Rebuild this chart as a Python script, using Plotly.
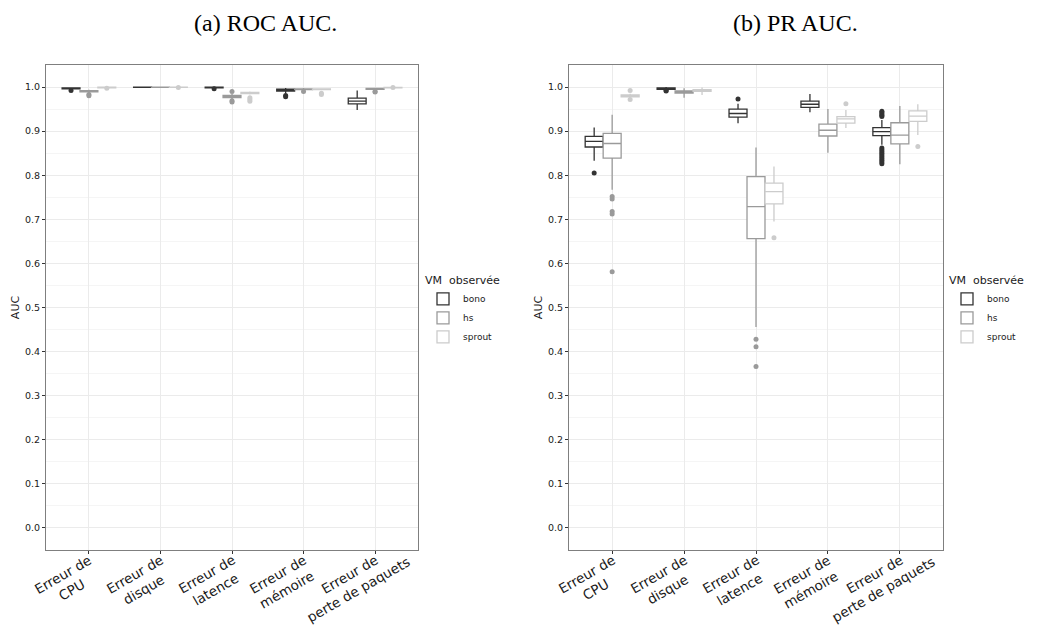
import plotly.graph_objects as go

categories = ["Erreur de<br>CPU", "Erreur de<br>disque", "Erreur de<br>latence",
              "Erreur de<br>mémoire", "Erreur de<br>perte de paquets"]
groups = ["bono", "hs", "sprout"]
colors = ["#333333", "#9a9a9a", "#cccccc"]
y_ticks = [0.0, 0.1, 0.2, 0.3, 0.4, 0.5, 0.6, 0.7, 0.8, 0.9, 1.0]

# ---- (a) ROC AUC ----
roc_bono_lo = [0.994, 1.0, 0.997, 0.986, 0.948]
roc_bono_q1 = [0.996, 0.9995, 0.998, 0.991, 0.962]
roc_bono_med = [0.997, 1.0, 0.999, 0.993, 0.968]
roc_bono_q3 = [0.998, 1.0, 0.9995, 0.995, 0.975]
roc_bono_hi = [0.999, 1.0, 1.0, 0.998, 0.992]
roc_bono_out = [[0.992], [], [0.996], [0.981, 0.978], []]

roc_hs_lo = [0.986, 0.999, 0.973, 0.992, 0.993]
roc_hs_q1 = [0.989, 0.9995, 0.976, 0.994, 0.995]
roc_hs_med = [0.991, 1.0, 0.978, 0.995, 0.996]
roc_hs_q3 = [0.992, 1.0, 0.981, 0.996, 0.997]
roc_hs_hi = [0.994, 1.0, 0.984, 0.998, 0.998]
roc_hs_out = [[0.983, 0.980], [], [0.990, 0.969, 0.966], [0.990], [0.990, 0.989]]

roc_sprout_lo = [0.997, 0.999, 0.983, 0.993, 0.997]
roc_sprout_q1 = [0.998, 0.9995, 0.985, 0.994, 0.998]
roc_sprout_med = [0.999, 1.0, 0.986, 0.995, 0.998]
roc_sprout_q3 = [0.9995, 1.0, 0.988, 0.996, 0.999]
roc_sprout_hi = [1.0, 1.0, 0.990, 0.997, 1.0]
roc_sprout_out = [[0.997], [0.999], [0.976, 0.972, 0.968], [0.986, 0.983], [0.999]]

# ---- (b) PR AUC ----
pr_bono_lo = [0.833, 0.993, 0.918, 0.943, 0.869]
pr_bono_q1 = [0.864, 0.995, 0.932, 0.954, 0.890]
pr_bono_med = [0.877, 0.997, 0.940, 0.961, 0.899]
pr_bono_q3 = [0.888, 0.998, 0.950, 0.968, 0.908]
pr_bono_hi = [0.908, 1.0, 0.962, 0.984, 0.925]
pr_bono_out = [[0.805], [0.992, 0.991], [0.973], [],
               [0.933, 0.936, 0.939, 0.942, 0.945, 0.862, 0.858, 0.854, 0.850,
                0.846, 0.842, 0.838, 0.834, 0.830, 0.826]]

pr_hs_lo = [0.767, 0.976, 0.456, 0.851, 0.825]
pr_hs_q1 = [0.839, 0.986, 0.656, 0.889, 0.871]
pr_hs_med = [0.872, 0.989, 0.729, 0.902, 0.891]
pr_hs_q3 = [0.895, 0.991, 0.797, 0.916, 0.919]
pr_hs_hi = [0.937, 0.997, 0.863, 0.950, 0.957]
pr_hs_out = [[0.752, 0.746, 0.718, 0.712, 0.581], [], [0.428, 0.411, 0.366], [], []]

pr_sprout_lo = [0.975, 0.982, 0.695, 0.907, 0.891]
pr_sprout_q1 = [0.978, 0.990, 0.735, 0.918, 0.922]
pr_sprout_med = [0.980, 0.992, 0.763, 0.928, 0.934]
pr_sprout_q3 = [0.982, 0.994, 0.782, 0.933, 0.946]
pr_sprout_hi = [0.985, 0.999, 0.820, 0.948, 0.961]
pr_sprout_out = [[0.992, 0.972], [], [0.658], [0.962], [0.865]]

panels = [
    dict(xa="x", ya="y", legend="legend", stats=[
        (roc_bono_lo, roc_bono_q1, roc_bono_med, roc_bono_q3, roc_bono_hi, roc_bono_out),
        (roc_hs_lo, roc_hs_q1, roc_hs_med, roc_hs_q3, roc_hs_hi, roc_hs_out),
        (roc_sprout_lo, roc_sprout_q1, roc_sprout_med, roc_sprout_q3, roc_sprout_hi, roc_sprout_out),
    ]),
    dict(xa="x2", ya="y2", legend="legend2", stats=[
        (pr_bono_lo, pr_bono_q1, pr_bono_med, pr_bono_q3, pr_bono_hi, pr_bono_out),
        (pr_hs_lo, pr_hs_q1, pr_hs_med, pr_hs_q3, pr_hs_hi, pr_hs_out),
        (pr_sprout_lo, pr_sprout_q1, pr_sprout_med, pr_sprout_q3, pr_sprout_hi, pr_sprout_out),
    ]),
]

BOX_W = 0.25
fig = go.Figure()
for p in panels:
    for g, (name, col, st) in enumerate(zip(groups, colors, p["stats"])):
        lo, q1, med, q3, hi, out = st
        offset = (g - 1) * BOX_W
        xs = [i + offset for i in range(len(categories))]
        fig.add_trace(go.Box(
            x=xs, q1=q1, median=med, q3=q3, lowerfence=lo, upperfence=hi,
            width=BOX_W, whiskerwidth=0, boxpoints=False, name=name,
            fillcolor="white", line=dict(color=col, width=1.3),
            xaxis=p["xa"], yaxis=p["ya"], legend=p["legend"],
            hoverinfo="skip",
        ))
        ox, oy = [], []
        for i, vals in enumerate(out):
            for v in vals:
                ox.append(i + offset)
                oy.append(v)
        fig.add_trace(go.Scatter(
            x=ox, y=oy, mode="markers", showlegend=False,
            marker=dict(color=col, size=5, line=dict(width=0)),
            xaxis=p["xa"], yaxis=p["ya"], hoverinfo="skip",
        ))

W, H = 1037, 630
AX_BOTTOM = 550
tick_font = dict(family="DejaVu Sans", size=9.5, color="#1a1a1a")
xlab_font = dict(family="DejaVu Sans", size=13.5, color="#1a1a1a")

def xaxis(domain, anchor):
    return dict(domain=domain, anchor=anchor, range=[-0.6, 4.6],
                tickvals=list(range(len(categories))), showticklabels=False,
                ticks="outside", ticklen=3,
                tickcolor="#333333", showgrid=True, gridcolor="#ebebeb", gridwidth=1,
                zeroline=False, showline=True, mirror=True, linecolor="#7f7f7f",
                linewidth=1, automargin=False)

def yaxis(anchor):
    return dict(domain=[1 - AX_BOTTOM / H, 1 - 65 / H], anchor=anchor, range=[-0.05, 1.05],
                tickvals=y_ticks, tickformat=".1f", tickfont=tick_font,
                ticks="outside", ticklen=3, tickcolor="#333333",
                showgrid=True, gridcolor="#ebebeb", gridwidth=1,
                minor=dict(tick0=0.05, dtick=0.1, showgrid=True, gridcolor="#f5f5f5", gridwidth=1, ticks=""),
                zeroline=False, showline=True, mirror=True, linecolor="#7f7f7f",
                linewidth=1, automargin=False,
                title=dict(text="AUC", font=dict(family="DejaVu Sans", size=11, color="#1a1a1a"), standoff=3))

legend_common = dict(xanchor="left", yanchor="top", bgcolor="rgba(0,0,0,0)",
                     font=dict(family="DejaVu Sans", size=9, color="#1a1a1a"),
                     title=dict(text="VM  observée", font=dict(family="DejaVu Sans", size=11, color="#1a1a1a")),
                     tracegroupgap=0, itemwidth=30)

title_font = dict(family="Liberation Serif", size=24, color="black")
annotations = [
    dict(text="(a) ROC AUC.", x=265 / W, y=1 - 23 / H, xref="paper", yref="paper",
         xanchor="center", yanchor="middle", showarrow=False, font=title_font),
    dict(text="(b) PR AUC.", x=795 / W, y=1 - 23 / H, xref="paper", yref="paper",
         xanchor="center", yanchor="middle", showarrow=False, font=title_font),
]
for xref in ["x", "x2"]:
    for i, lab in enumerate(categories):
        annotations.append(dict(
            text=lab, x=i, xref=xref, y=1 - 582 / H, yref="paper",
            xanchor="center", yanchor="middle", xshift=-21, textangle=-30,
            align="center", showarrow=False, font=xlab_font))

fig.update_layout(
    width=W, height=H, margin=dict(l=0, r=0, t=0, b=0),
    paper_bgcolor="white", plot_bgcolor="white", showlegend=True,
    xaxis=xaxis([46 / W, 418 / W], "y"),
    yaxis=yaxis("x"),
    xaxis2=xaxis([569 / W, 943 / W], "y2"),
    yaxis2=yaxis("x2"),
    legend=dict(x=423 / W, y=1 - 270 / H, **legend_common),
    legend2=dict(x=947 / W, y=1 - 270 / H, **legend_common),
    annotations=annotations,
)

fig.write_html("out.html", post_script="document.body.style.margin='0';",
               config={"displayModeBar": False})
